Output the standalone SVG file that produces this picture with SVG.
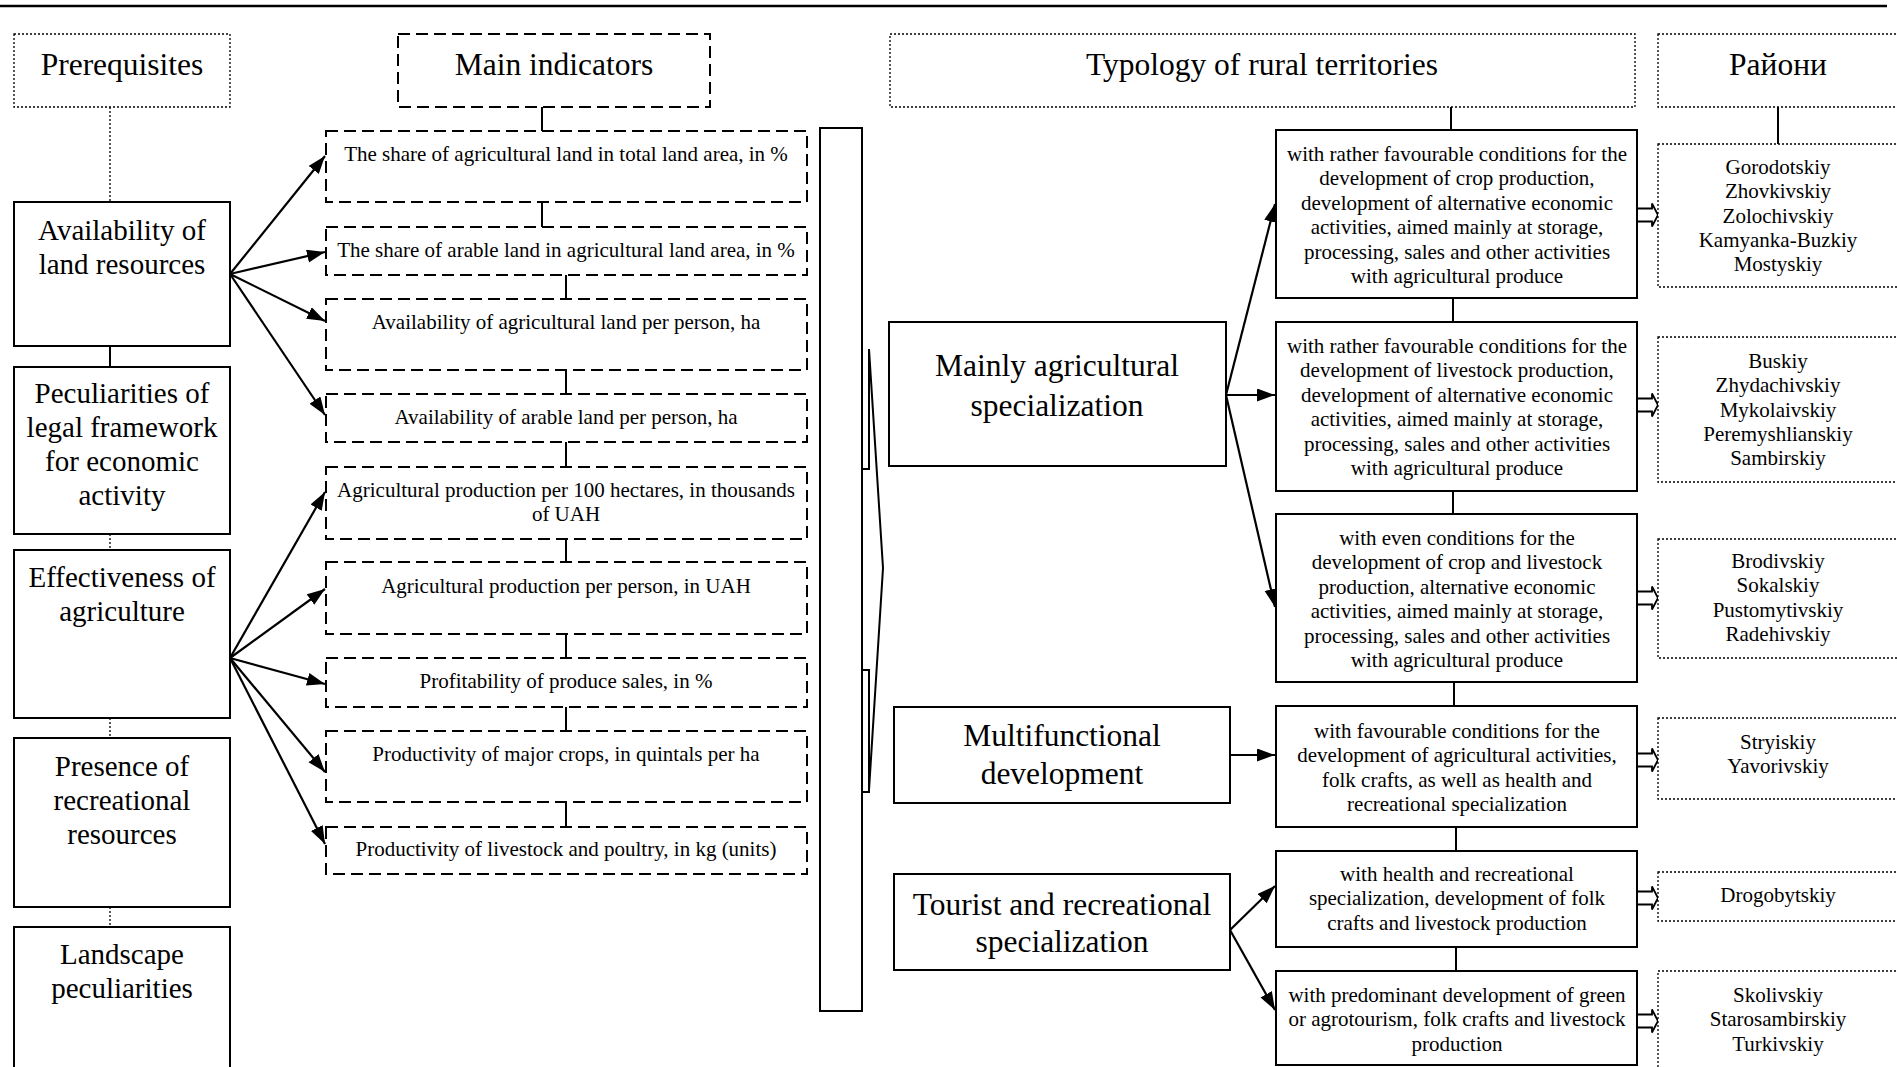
<svg xmlns="http://www.w3.org/2000/svg" width="1897" height="1067" viewBox="0 0 1897 1067">
<style>
.t{font-family:"Liberation Serif","Times New Roman",serif;fill:#000;text-anchor:middle}
.s21{font-size:21px}
.s29{font-size:29px}
.s32{font-size:31.5px}
.box{fill:#fff;stroke:#000;stroke-width:2}
.dash{fill:#fff;stroke:#000;stroke-width:2;stroke-dasharray:12 6}
.dot{fill:#fff;stroke:#000;stroke-width:1.3;stroke-dasharray:2 2}
.ln{stroke:#000;stroke-width:2;fill:none}
.dl{stroke:#000;stroke-width:1.3;stroke-dasharray:2 2;fill:none}
.ar{stroke:#000;stroke-width:2.2;fill:none;marker-end:url(#ah)}
.ha{fill:#fff;stroke:#000;stroke-width:1.8}
</style>
<defs>
<marker id="ah" markerUnits="userSpaceOnUse" markerWidth="19" markerHeight="14" refX="18" refY="6.5" orient="auto">
<path d="M0,0 L18,6.5 L0,13 z" fill="#000"/>
</marker>
</defs>
<rect width="1897" height="1067" fill="#fff"/>
<line x1="0" y1="6" x2="1887" y2="6" stroke="#000" stroke-width="2.5"/>

<g id="connectors">
<line class="dl" x1="110" y1="107" x2="110" y2="202"/>
<line class="ln" x1="110" y1="346" x2="110" y2="367"/>
<line class="dl" x1="110" y1="534" x2="110" y2="550"/>
<line class="dl" x1="110" y1="718" x2="110" y2="738"/>
<line class="dl" x1="110" y1="907" x2="110" y2="927"/>
<line class="ln" x1="542" y1="107" x2="542" y2="131"/>
<line class="ln" x1="542" y1="202" x2="542" y2="227"/>
<line class="ln" x1="566" y1="275" x2="566" y2="299"/>
<line class="ln" x1="566" y1="370" x2="566" y2="394"/>
<line class="ln" x1="566" y1="442" x2="566" y2="467"/>
<line class="ln" x1="566" y1="539" x2="566" y2="562"/>
<line class="ln" x1="566" y1="634" x2="566" y2="658"/>
<line class="ln" x1="566" y1="707" x2="566" y2="731"/>
<line class="ln" x1="566" y1="802" x2="566" y2="827"/>
<line class="ar" x1="230" y1="274" x2="325" y2="156"/>
<line class="ar" x1="230" y1="274" x2="325" y2="252"/>
<line class="ar" x1="230" y1="274" x2="325" y2="321"/>
<line class="ar" x1="230" y1="274" x2="325" y2="415"/>
<line class="ar" x1="230" y1="658" x2="325" y2="492"/>
<line class="ar" x1="230" y1="658" x2="325" y2="589"/>
<line class="ar" x1="230" y1="658" x2="325" y2="684"/>
<line class="ar" x1="230" y1="658" x2="325" y2="772"/>
<line class="ar" x1="230" y1="658" x2="325" y2="844"/>
<path class="ln" d="M869,349 V469 H861"/>
<path class="ln" d="M861,670 H869 V792 H861"/>
<path class="ln" d="M869,349 L883,568 L869,790"/>
<line class="ln" x1="1451" y1="107" x2="1451" y2="130"/>
<line class="ln" x1="1453" y1="298" x2="1453" y2="322"/>
<line class="ln" x1="1453" y1="491" x2="1453" y2="514"/>
<line class="ln" x1="1454" y1="682" x2="1454" y2="706"/>
<line class="ln" x1="1456" y1="827" x2="1456" y2="851"/>
<line class="ln" x1="1456" y1="947" x2="1456" y2="971"/>
<line class="ln" x1="1778" y1="107" x2="1778" y2="144"/>
<line class="ar" x1="1226" y1="395" x2="1275" y2="204"/>
<line class="ar" x1="1226" y1="395" x2="1275" y2="395"/>
<line class="ar" x1="1226" y1="395" x2="1275" y2="607"/>
<line class="ar" x1="1230" y1="755" x2="1275" y2="755"/>
<line class="ar" x1="1230" y1="930" x2="1275" y2="886"/>
<line class="ar" x1="1230" y1="930" x2="1275" y2="1010"/>
<path class="ha" d="M1637,208.5 H1652 V203.5 L1658,215 L1652,226.5 V221.5 H1637 z"/>
<path class="ha" d="M1637,398.5 H1652 V393.5 L1658,405 L1652,416.5 V411.5 H1637 z"/>
<path class="ha" d="M1637,591.5 H1652 V586.5 L1658,598 L1652,609.5 V604.5 H1637 z"/>
<path class="ha" d="M1637,753.5 H1652 V748.5 L1658,760 L1652,771.5 V766.5 H1637 z"/>
<path class="ha" d="M1637,891.5 H1652 V886.5 L1658,898 L1652,909.5 V904.5 H1637 z"/>
<path class="ha" d="M1637,1014.5 H1652 V1009.5 L1658,1021 L1652,1032.5 V1027.5 H1637 z"/>
</g>

<g id="prerequisites"><rect class="dot" x="14" y="34" width="216" height="73"/><text class="t s32" x="122" y="75">Prerequisites</text></g>
<g id="main-indicators"><rect class="dash" x="398" y="34" width="312" height="73"/><text class="t s32" x="554" y="75">Main indicators</text></g>
<g id="typology"><rect class="dot" x="890" y="34" width="745" height="73"/><text class="t s32" x="1262" y="75">Typology of rural territories</text></g>
<g id="rayony"><rect class="dot" x="1658" y="34" width="260" height="73"/><text class="t s32" x="1778" y="75">Райони</text></g>

<g id="land"><rect class="box" x="14" y="202" width="216" height="144"/><text class="t s29"><tspan x="122" y="240">Availability of</tspan><tspan x="122" y="274">land resources</tspan></text></g>
<g id="legal"><rect class="box" x="14" y="367" width="216" height="167"/><text class="t s29"><tspan x="122" y="403">Peculiarities of</tspan><tspan x="122" y="437">legal framework</tspan><tspan x="122" y="471">for economic</tspan><tspan x="122" y="505">activity</tspan></text></g>
<g id="effectiveness"><rect class="box" x="14" y="550" width="216" height="168"/><text class="t s29"><tspan x="122" y="587">Effectiveness of</tspan><tspan x="122" y="621">agriculture</tspan></text></g>
<g id="recreational"><rect class="box" x="14" y="738" width="216" height="169"/><text class="t s29"><tspan x="122" y="776">Presence of</tspan><tspan x="122" y="810">recreational</tspan><tspan x="122" y="844">resources</tspan></text></g>
<g id="landscape"><rect class="box" x="14" y="927" width="216" height="160"/><text class="t s29"><tspan x="122" y="964">Landscape</tspan><tspan x="122" y="998">peculiarities</tspan></text></g>

<g id="ind1"><rect class="dash" x="326" y="131" width="481" height="71"/><text class="t s21" x="566" y="161">The share of agricultural land in total land area, in %</text></g>
<g id="ind2"><rect class="dash" x="326" y="227" width="481" height="48"/><text class="t s21" x="566" y="257">The share of arable land in agricultural land area, in %</text></g>
<g id="ind3"><rect class="dash" x="326" y="299" width="481" height="71"/><text class="t s21" x="566" y="329">Availability of agricultural land per person, ha</text></g>
<g id="ind4"><rect class="dash" x="326" y="394" width="481" height="48"/><text class="t s21" x="566" y="424">Availability of arable land per person, ha</text></g>
<g id="ind5"><rect class="dash" x="326" y="467" width="481" height="72"/><text class="t s21"><tspan x="566" y="497">Agricultural production per 100 hectares, in thousands</tspan><tspan x="566" y="521">of UAH</tspan></text></g>
<g id="ind6"><rect class="dash" x="326" y="562" width="481" height="72"/><text class="t s21" x="566" y="593">Agricultural production per person, in UAH</text></g>
<g id="ind7"><rect class="dash" x="326" y="658" width="481" height="49"/><text class="t s21" x="566" y="688">Profitability of produce sales, in %</text></g>
<g id="ind8"><rect class="dash" x="326" y="731" width="481" height="71"/><text class="t s21" x="566" y="761">Productivity of major crops, in quintals per ha</text></g>
<g id="ind9"><rect class="dash" x="326" y="827" width="481" height="47"/><text class="t s21" x="566" y="856">Productivity of livestock and poultry, in kg (units)</text></g>

<g id="collector"><rect class="box" x="820" y="128" width="42" height="883"/></g>

<g id="mainly-agri"><rect class="box" x="889" y="322" width="337" height="144"/><text class="t s32"><tspan x="1057" y="376">Mainly agricultural</tspan><tspan x="1057" y="416">specialization</tspan></text></g>
<g id="multifunctional"><rect class="box" x="894" y="707" width="336" height="96"/><text class="t s32"><tspan x="1062" y="746">Multifunctional</tspan><tspan x="1062" y="784">development</tspan></text></g>
<g id="tourist"><rect class="box" x="894" y="874" width="336" height="96"/><text class="t s32"><tspan x="1062" y="915">Tourist and recreational</tspan><tspan x="1062" y="952">specialization</tspan></text></g>

<g id="type1"><rect class="box" x="1276" y="130" width="361" height="168"/><text class="t s21"><tspan x="1457" y="161">with rather favourable conditions for the</tspan><tspan x="1457" y="185.4">development of crop production,</tspan><tspan x="1457" y="209.8">development of alternative economic</tspan><tspan x="1457" y="234.2">activities, aimed mainly at storage,</tspan><tspan x="1457" y="258.6">processing, sales and other activities</tspan><tspan x="1457" y="283">with agricultural produce</tspan></text></g>
<g id="type2"><rect class="box" x="1276" y="322" width="361" height="169"/><text class="t s21"><tspan x="1457" y="353">with rather favourable conditions for the</tspan><tspan x="1457" y="377.4">development of livestock production,</tspan><tspan x="1457" y="401.8">development of alternative economic</tspan><tspan x="1457" y="426.2">activities, aimed mainly at storage,</tspan><tspan x="1457" y="450.6">processing, sales and other activities</tspan><tspan x="1457" y="475">with agricultural produce</tspan></text></g>
<g id="type3"><rect class="box" x="1276" y="514" width="361" height="168"/><text class="t s21"><tspan x="1457" y="545">with even conditions for the</tspan><tspan x="1457" y="569.4">development of crop and livestock</tspan><tspan x="1457" y="593.8">production, alternative economic</tspan><tspan x="1457" y="618.2">activities, aimed mainly at storage,</tspan><tspan x="1457" y="642.6">processing, sales and other activities</tspan><tspan x="1457" y="667">with agricultural produce</tspan></text></g>
<g id="type4"><rect class="box" x="1276" y="706" width="361" height="121"/><text class="t s21"><tspan x="1457" y="738">with favourable conditions for the</tspan><tspan x="1457" y="762.4">development of agricultural activities,</tspan><tspan x="1457" y="786.8">folk crafts, as well as health and</tspan><tspan x="1457" y="811.2">recreational specialization</tspan></text></g>
<g id="type5"><rect class="box" x="1276" y="851" width="361" height="96"/><text class="t s21"><tspan x="1457" y="881">with health and recreational</tspan><tspan x="1457" y="905.4">specialization, development of folk</tspan><tspan x="1457" y="929.8">crafts and livestock production</tspan></text></g>
<g id="type6"><rect class="box" x="1276" y="971" width="361" height="94"/><text class="t s21"><tspan x="1457" y="1002">with predominant development of green</tspan><tspan x="1457" y="1026.4">or agrotourism, folk crafts and livestock</tspan><tspan x="1457" y="1050.8">production</tspan></text></g>

<g id="districts1"><rect class="dot" x="1658" y="144" width="260" height="143"/><text class="t s21"><tspan x="1778" y="174">Gorodotskiy</tspan><tspan x="1778" y="198.3">Zhovkivskiy</tspan><tspan x="1778" y="222.6">Zolochivskiy</tspan><tspan x="1778" y="246.9">Kamyanka-Buzkiy</tspan><tspan x="1778" y="271.2">Mostyskiy</tspan></text></g>
<g id="districts2"><rect class="dot" x="1658" y="337" width="260" height="145"/><text class="t s21"><tspan x="1778" y="368">Buskiy</tspan><tspan x="1778" y="392.3">Zhydachivskiy</tspan><tspan x="1778" y="416.6">Mykolaivskiy</tspan><tspan x="1778" y="440.9">Peremyshlianskiy</tspan><tspan x="1778" y="465.2">Sambirskiy</tspan></text></g>
<g id="districts3"><rect class="dot" x="1658" y="539" width="260" height="119"/><text class="t s21"><tspan x="1778" y="568">Brodivskiy</tspan><tspan x="1778" y="592.3">Sokalskiy</tspan><tspan x="1778" y="616.6">Pustomytivskiy</tspan><tspan x="1778" y="640.9">Radehivskiy</tspan></text></g>
<g id="districts4"><rect class="dot" x="1658" y="718" width="260" height="81"/><text class="t s21"><tspan x="1778" y="749">Stryiskiy</tspan><tspan x="1778" y="773.3">Yavorivskiy</tspan></text></g>
<g id="districts5"><rect class="dot" x="1658" y="872" width="260" height="49"/><text class="t s21" x="1778" y="902">Drogobytskiy</text></g>
<g id="districts6"><rect class="dot" x="1658" y="971" width="260" height="100"/><text class="t s21"><tspan x="1778" y="1002">Skolivskiy</tspan><tspan x="1778" y="1026.3">Starosambirskiy</tspan><tspan x="1778" y="1050.6">Turkivskiy</tspan></text></g>
</svg>
